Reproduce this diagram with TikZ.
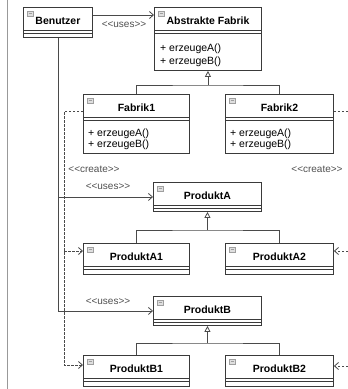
\documentclass[tikz,border=0pt]{standalone}
\usepackage{fontspec}
\setmainfont{Liberation Sans}
\usetikzlibrary{arrows.meta,positioning}
\definecolor{rand}{HTML}{3A3A3A}
\definecolor{verbinder}{HTML}{4A4A4A}
\definecolor{stereograu}{HTML}{505050}

\tikzset{
	klasse/.style={rectangle, draw=rand, fill=white, line width=0.9pt, anchor=north west, inner sep=0pt},
	trenner/.style={draw=rand, line width=0.9pt},
	icon/.style={draw=gray!75, fill=gray!25, line width=0.5pt},
	titel/.style={font=\fontsize{10.5}{12}\selectfont\bfseries, inner sep=0pt},
	methode/.style={font=\fontsize{10.5}{12}\selectfont, anchor=base west, inner sep=0pt},
	stereo/.style={font=\fontsize{10}{12}\selectfont, text=stereograu, inner sep=0pt},
	uses/.style={draw=verbinder, line width=0.8pt},
	create/.style={draw=verbinder, line width=0.8pt, dash pattern=on 2.5pt off 1.5pt},
	erbt/.style={draw=verbinder, line width=0.8pt},
	>={Straight Barb[length=4pt,width=7pt]}
}

% Klassenkasten: Name, x, y, Breite, Hoehe, Titel
\newcommand{\klasse}[6]{%
	\node[klasse, minimum width=#4pt, minimum height=#5pt] (#1) at (#2,#3) {};
	\draw[trenner] ([yshift=-23pt]#1.north west) -- ([yshift=-23pt]#1.north east);
	\draw[trenner] ([yshift=-26pt]#1.north west) -- ([yshift=-26pt]#1.north east);
	\draw[icon] ([xshift=4pt,yshift=-4pt]#1.north west) rectangle ++(6pt,-5pt);
	\draw[icon] ([xshift=5.5pt,yshift=-6.5pt]#1.north west) -- ++(3pt,0pt);
	\node[titel] (#1-titel) at ([yshift=-14pt]#1.north) {#6};
}
\newcommand{\stereotyp}[1]{<\kern0pt<#1>\kern0pt>}

\begin{document}
\begin{tikzpicture}[x=1pt, y=-1pt]
	\useasboundingbox (0,0) rectangle (348,389);
	\draw[gray!80, line width=0.9pt] (7,0) -- (7,389);

	% Klassen
	\klasse{bn}{23}{7}{69}{30}{Benutzer}
	\klasse{af}{154}{7}{107}{63}{Abstrakte Fabrik}
	\klasse{f1}{83}{94}{106}{59}{Fabrik1}
	\klasse{f2}{225}{94}{108}{59}{Fabrik2}
	\klasse{pa}{153}{182}{108}{29}{ProduktA}
	\klasse{pa1}{83}{243}{106}{31}{ProduktA1}
	\klasse{pa2}{225}{243}{108}{31}{ProduktA2}
	\klasse{pb}{153}{296}{108}{29}{ProduktB}
	\klasse{pb1}{83}{355}{106}{31}{ProduktB1}
	\klasse{pb2}{225}{355}{108}{31}{ProduktB2}

	% Methoden
	\node[methode] (af-m1) at ([xshift=6pt,yshift=-44pt]af.north west) {+ erzeugeA()};
	\node[methode] (af-m2) at ([xshift=6pt,yshift=-57pt]af.north west) {+ erzeugeB()};
	\node[methode] (f1-m1) at ([xshift=5pt,yshift=-42pt]f1.north west) {+ erzeugeA()};
	\node[methode] (f1-m2) at ([xshift=5pt,yshift=-53pt]f1.north west) {+ erzeugeB()};
	\node[methode] (f2-m1) at ([xshift=5pt,yshift=-42pt]f2.north west) {+ erzeugeA()};
	\node[methode] (f2-m2) at ([xshift=5pt,yshift=-53pt]f2.north west) {+ erzeugeB()};

	% Vererbung
	\begin{scope}[every path/.style={erbt}]
		\coordinate (af-knoten) at (af.south |- 0,85);
		\draw (f1.north) |- (af-knoten) -| (f2.north);
		\draw[-{Triangle[open,fill=white,length=6pt,width=6pt]}] (af-knoten) -- (af.south);
		\coordinate (pa-knoten) at (pa.south |- 0,230);
		\draw (pa1.north) |- (pa-knoten) -| (pa2.north);
		\draw[-{Triangle[open,fill=white,length=6pt,width=6pt]}] (pa-knoten) -- (pa.south);
		\coordinate (pb-knoten) at (pb.south |- 0,343);
		\draw (pb1.north) |- (pb-knoten) -| (pb2.north);
		\draw[-{Triangle[open,fill=white,length=6pt,width=6pt]}] (pb-knoten) -- (pb.south);
	\end{scope}

	% uses
	\coordinate (af-ein) at ([yshift=-8pt]af.north west);
	\draw[uses,->] (bn.east |- af-ein) -- (af-ein);
	\draw[uses,->] (bn.south) |- (pa.west);
	\draw[uses,->] (bn.south) |- (pb.west);
	\node[stereo] (uses-af) at (124,25) {\stereotyp{uses}};
	\node[stereo] (uses-pa) at (108,187) {\stereotyp{uses}};
	\node[stereo] (uses-pb) at (108,302) {\stereotyp{uses}};

	% create
	\coordinate (f1-aus) at ([yshift=-17pt]f1.north west);
	\coordinate (knick) at (64,111);
	\coordinate (pa1-ein) at ([yshift=-8pt]pa1.north west);
	\coordinate (pb1-ein) at ([yshift=-10pt]pb1.north west);
	\draw[create,->] (f1-aus) -- (knick) |- (pb1-ein);
	\draw[create,->] (knick |- pa1-ein) -- (pa1-ein);
	\node[stereo] (create-l) at (94,169) {\stereotyp{create}};

	\coordinate (f2-aus) at ([yshift=-17pt]f2.north east);
	\coordinate (rand-o) at (348,111);
	\coordinate (pa2-ein) at ([yshift=-8pt]pa2.north east);
	\coordinate (pb2-ein) at ([yshift=-11pt]pb2.north east);
	\draw[create] (f2-aus) -- (rand-o);
	\draw[create,->] (rand-o |- pa2-ein) -- (pa2-ein);
	\draw[create,->] (rand-o |- pb2-ein) -- (pb2-ein);
	\node[stereo] (create-r) at (317,169) {\stereotyp{create}};
\end{tikzpicture}
\end{document}
